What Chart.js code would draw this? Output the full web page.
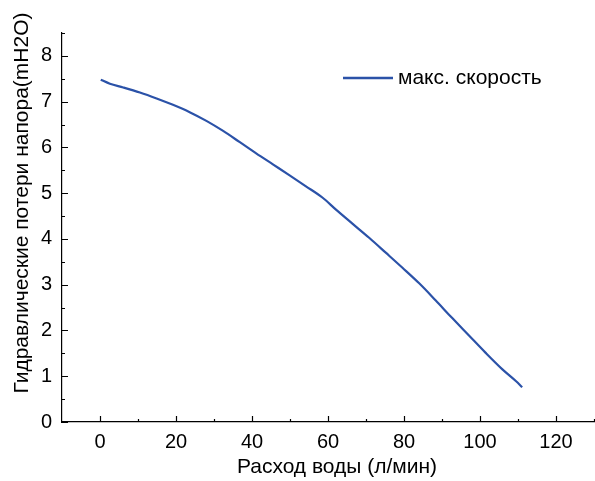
<!DOCTYPE html>
<html>
<head>
<meta charset="utf-8">
<script src="https://cdn.jsdelivr.net/npm/chart.js@4/dist/chart.umd.min.js"></script>
<style>
    html, body { margin: 0; padding: 0; background: #ffffff; }
    #wrap { width: 595px; height: 481px; position: relative; }
</style>
</head>
<body>
<div id="wrap"><canvas id="flow-chart"></canvas></div>
<script>
// flow (l/min) vs head loss (mH2O)
var flowValues = [0.2, 2.6, 6.1, 10.5, 14.9, 19.2, 23.6, 28.0, 32.4, 36.7, 41.1, 45.5, 49.9, 54.2, 58.6, 62.1, 66.5, 70.9, 75.2, 79.6, 84.0, 88.3, 92.7, 97.1, 101.5, 105.9, 109.5, 111.1];
var headValues = [7.48, 7.39, 7.31, 7.20, 7.07, 6.93, 6.77, 6.58, 6.36, 6.12, 5.87, 5.63, 5.39, 5.15, 4.90, 4.64, 4.33, 4.02, 3.70, 3.37, 3.03, 2.66, 2.27, 1.89, 1.51, 1.15, 0.89, 0.76];
var seriesLabel = "макс. скорость";
var xTitle = "Расход воды (л/мин)";
var yTitle = "Гидравлические потери напора(mH2O)";
var xMajorTicks = [0, 20, 40, 60, 80, 100, 120];
var xMinorTicks = [10, 30, 50, 70, 90, 110, 130];
var yMajorTicks = [0, 1, 2, 3, 4, 5, 6, 7, 8];
var yMinorTicks = [0.5, 1.5, 2.5, 3.5, 4.5, 5.5, 6.5, 7.5, 8.5];

var lineColor = "#2b52a8";
var fontFamily = "'Liberation Sans', Arial, sans-serif";

drawFlowChart();

function drawFlowChart() {

    var points = flowValues.map(function (x, i) {
        return { x: x, y: headValues[i] };
    });

    // inward ticks, axis titles and the in-plot legend
    var decorPlugin = {
        id: "decor",
        afterDraw: function (chart) {
            var ctx = chart.ctx;
            var area = chart.chartArea;
            var xs = chart.scales.x;
            var ys = chart.scales.y;

            ctx.save();
            ctx.strokeStyle = "#000000";
            ctx.lineWidth = 1.2;
            ctx.beginPath();
            xMajorTicks.forEach(function (v) {
                var px = Math.round(xs.getPixelForValue(v)) + 0.5;
                ctx.moveTo(px, area.bottom);
                ctx.lineTo(px, area.bottom - 6);
            });
            xMinorTicks.forEach(function (v) {
                var px = Math.round(xs.getPixelForValue(v)) + 0.5;
                ctx.moveTo(px, area.bottom);
                ctx.lineTo(px, area.bottom - 3);
            });
            yMajorTicks.forEach(function (v) {
                var py = Math.round(ys.getPixelForValue(v)) + 0.5;
                ctx.moveTo(area.left, py);
                ctx.lineTo(area.left + 6, py);
            });
            yMinorTicks.forEach(function (v) {
                var py = Math.round(ys.getPixelForValue(v)) + 0.5;
                ctx.moveTo(area.left, py);
                ctx.lineTo(area.left + 3, py);
            });
            ctx.stroke();

            ctx.fillStyle = "#000000";
            ctx.font = "21px " + fontFamily;
            ctx.textAlign = "center";
            ctx.textBaseline = "middle";
            ctx.fillText(xTitle, 337, 467);

            ctx.save();
            ctx.translate(22, 203);
            ctx.rotate(-Math.PI / 2);
            ctx.fillText(yTitle, 0, 0);
            ctx.restore();

            ctx.strokeStyle = lineColor;
            ctx.lineWidth = 2.5;
            ctx.beginPath();
            ctx.moveTo(343, 78);
            ctx.lineTo(393, 78);
            ctx.stroke();
            ctx.textAlign = "left";
            ctx.fillText(seriesLabel, 398, 78);
            ctx.restore();
        }
    };

    new Chart(
        document.getElementById("flow-chart"),
        {
            type: "line",
            data: {
                datasets: [{
                    label: seriesLabel,
                    data: points,
                    borderColor: lineColor,
                    borderWidth: 2.2,
                    pointRadius: 0,
                    cubicInterpolationMode: "monotone",
                    fill: false
                }]
            },
            options: {
                responsive: true,
                maintainAspectRatio: false,
                animation: false,
                layout: {
                    padding: { top: 33, right: 1, left: 0, bottom: 0 }
                },
                scales: {
                    x: {
                        type: "linear",
                        min: -10,
                        max: 130,
                        afterFit: function (scale) { scale.height = 59; },
                        afterBuildTicks: function (scale) {
                            scale.ticks = xMajorTicks.map(function (v) { return { value: v }; });
                        },
                        border: { display: true, color: "#000000", width: 1.2 },
                        grid: { display: false, drawTicks: false },
                        ticks: {
                            padding: 8,
                            color: "#000000",
                            maxRotation: 0,
                            font: { family: fontFamily, size: 20 }
                        }
                    },
                    y: {
                        type: "linear",
                        min: 0,
                        max: 8.5,
                        afterFit: function (scale) { scale.width = 62; },
                        afterBuildTicks: function (scale) {
                            scale.ticks = yMajorTicks.map(function (v) { return { value: v }; });
                        },
                        border: { display: true, color: "#000000", width: 1.2 },
                        grid: { display: false, drawTicks: false },
                        ticks: {
                            padding: 10,
                            color: "#000000",
                            font: { family: fontFamily, size: 20 }
                        }
                    }
                },
                plugins: {
                    legend: { display: false },
                    tooltip: { enabled: false }
                }
            },
            plugins: [decorPlugin]
        }
    );

}
</script>
</body>
</html>
